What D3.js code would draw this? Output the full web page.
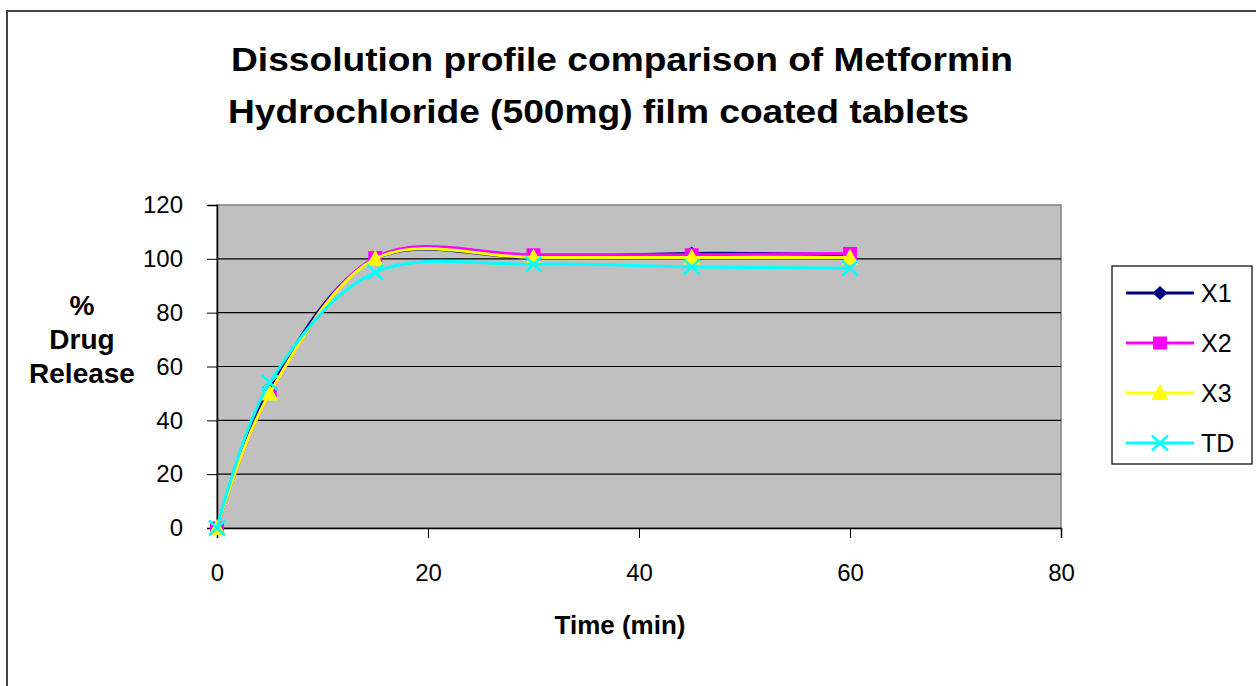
<!DOCTYPE html>
<html>
<head>
<meta charset="utf-8">
<script src="https://cdn.jsdelivr.net/npm/d3@7"></script>
<style>
  body { margin: 0; background: #fff; }
  text { font-family: "Liberation Sans", Arial, sans-serif; fill: #000; }
</style>
</head>
<body>
<svg id="chart" width="1256" height="686"></svg>
<script>
// data
const time = [0, 5, 15, 30, 45, 60];
const x1 = [0, 52, 100, 100.5, 102, 101.5];
const x2 = [0, 50, 100.5, 101.5, 101.5, 102];
const x3 = [0, 50, 100, 100.5, 100.5, 100.5];
const td = [0, 54, 95, 98, 97, 96.5];
const seriesNames = ['X1', 'X2', 'X3', 'TD'];
const xTicks = [0, 20, 40, 60, 80];
const yTicks = [0, 20, 40, 60, 80, 100, 120];

const series = [
  { name: 'X1', values: x1, color: '#000080', shape: 'diamond' },
  { name: 'X2', values: x2, color: '#FF00FF', shape: 'square' },
  { name: 'X3', values: x3, color: '#FFFF00', shape: 'triangle' },
  { name: 'TD', values: td, color: '#00FFFF', shape: 'x' }
];

const svg = d3.select('#chart');

// outer chart border
svg.append('rect')
  .attr('x', 7).attr('y', 11)
  .attr('width', 1260).attr('height', 690)
  .attr('fill', '#fff')
  .attr('stroke', '#444').attr('stroke-width', 2);

const plot = { left: 217, right: 1061, top: 205, bottom: 528 };

const x = d3.scaleLinear().domain([0, 80]).range([plot.left, plot.right]);
const y = d3.scaleLinear().domain([0, 120]).range([plot.bottom, plot.top]);

// plot area
svg.append('rect')
  .attr('x', plot.left).attr('y', plot.top)
  .attr('width', plot.right - plot.left).attr('height', plot.bottom - plot.top)
  .attr('fill', '#C0C0C0')
  .attr('stroke', '#808080').attr('stroke-width', 1.5);

// gridlines
svg.append('g').selectAll('line')
  .data(yTicks.filter(d => d > 0 && d < 120))
  .enter().append('line')
  .attr('x1', plot.left).attr('x2', plot.right)
  .attr('y1', d => y(d)).attr('y2', d => y(d))
  .attr('stroke', '#000').attr('stroke-width', 1.2);

// y axis
const yAxis = svg.append('g')
  .attr('transform', `translate(${plot.left},0)`)
  .call(d3.axisLeft(y).tickValues(yTicks).tickSize(10).tickPadding(24));
yAxis.select('.domain').attr('stroke', '#000').attr('stroke-width', 1.5);
yAxis.selectAll('.tick line').attr('stroke', '#000');
yAxis.selectAll('.tick text')
  .style('font-size', '24px')
  .attr('font-family', null);

// x axis
const xAxis = svg.append('g')
  .attr('transform', `translate(0,${plot.bottom})`)
  .call(d3.axisBottom(x).tickValues(xTicks).tickSize(10).tickPadding(26));
xAxis.select('.domain').attr('stroke', '#000').attr('stroke-width', 1.5);
xAxis.selectAll('.tick line').attr('stroke', '#000');
xAxis.selectAll('.tick text')
  .style('font-size', '24px')
  .attr('font-family', null);

// lines, smoothed like Excel
const line = d3.line()
  .x((d, i) => x(time[i]))
  .y(d => y(d))
  .curve(d3.curveCardinal.tension(0));

function drawMarker(g, s, cx, cy) {
  let d;
  if (s.shape === 'diamond') {
    d = `M${cx},${cy - 7}L${cx + 7.5},${cy}L${cx},${cy + 7}L${cx - 7.5},${cy}Z`;
  } else if (s.shape === 'square') {
    d = `M${cx - 7},${cy - 6.5}h14v13h-14Z`;
  } else if (s.shape === 'triangle') {
    d = `M${cx},${cy - 9}L${cx + 8.5},${cy + 7}L${cx - 8.5},${cy + 7}Z`;
  }
  if (s.shape === 'x') {
    g.append('path')
      .attr('d', `M${cx - 8},${cy - 7.5}L${cx + 8},${cy + 7.5}M${cx - 8},${cy + 7.5}L${cx + 8},${cy - 7.5}`)
      .attr('stroke', s.color).attr('stroke-width', 2.5).attr('fill', 'none');
  } else {
    g.append('path').attr('d', d).attr('fill', s.color);
  }
}

series.forEach(s => {
  const g = svg.append('g');
  g.append('path')
    .datum(s.values)
    .attr('d', line)
    .attr('fill', 'none')
    .attr('stroke', s.color)
    .attr('stroke-width', 3);
  s.values.forEach((v, i) => drawMarker(g, s, x(time[i]), y(v)));
});

// title
const title = svg.append('g').attr('font-weight', 'bold');
title.append('text')
  .attr('x', 231).attr('y', 71)
  .attr('textLength', 782).attr('lengthAdjust', 'spacingAndGlyphs')
  .style('font-size', '33px')
  .text('Dissolution profile comparison of Metformin');
title.append('text')
  .attr('x', 228).attr('y', 123)
  .attr('textLength', 741).attr('lengthAdjust', 'spacingAndGlyphs')
  .style('font-size', '33px')
  .text('Hydrochloride (500mg) film coated tablets');

// axis titles
svg.append('text')
  .attr('x', 620).attr('y', 634)
  .attr('text-anchor', 'middle')
  .attr('font-weight', 'bold')
  .style('font-size', '26px')
  .text('Time (min)');

const yTitle = svg.append('text')
  .attr('text-anchor', 'middle')
  .attr('font-weight', 'bold')
  .style('font-size', '28px');
['%', 'Drug', 'Release'].forEach((t, i) => {
  yTitle.append('tspan')
    .attr('x', 82).attr('y', 315 + i * 34)
    .text(t);
});

// legend
const legend = svg.append('g');
legend.append('rect')
  .attr('x', 1112).attr('y', 266)
  .attr('width', 140).attr('height', 198)
  .attr('fill', '#fff')
  .attr('stroke', '#000').attr('stroke-width', 1.2);

series.forEach((s, i) => {
  const ly = 293 + i * 50;
  const g = legend.append('g');
  g.append('line')
    .attr('x1', 1126).attr('x2', 1194)
    .attr('y1', ly).attr('y2', ly)
    .attr('stroke', s.color).attr('stroke-width', 3);
  drawMarker(g, s, 1160, ly);
  g.append('text')
    .attr('x', 1201).attr('y', ly + 9)
    .style('font-size', '25px')
    .text(seriesNames[i]);
});
</script>
</body>
</html>
